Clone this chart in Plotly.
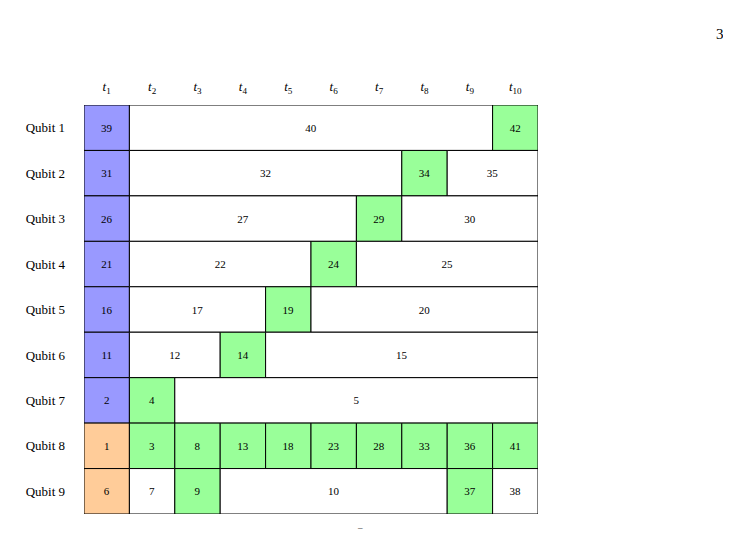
import plotly.graph_objects as go

qubits = ["Qubit 1", "Qubit 2", "Qubit 3", "Qubit 4", "Qubit 5",
          "Qubit 6", "Qubit 7", "Qubit 8", "Qubit 9"]
time_labels = ["<i>t</i><sub>%d</sub>" % i for i in range(1, 11)]

# per qubit: (start column, span, label, kind)
q1 = [(0, 1, "39", "b"), (1, 8, "40", "w"), (9, 1, "42", "g")]
q2 = [(0, 1, "31", "b"), (1, 6, "32", "w"), (7, 1, "34", "g"), (8, 2, "35", "w")]
q3 = [(0, 1, "26", "b"), (1, 5, "27", "w"), (6, 1, "29", "g"), (7, 3, "30", "w")]
q4 = [(0, 1, "21", "b"), (1, 4, "22", "w"), (5, 1, "24", "g"), (6, 4, "25", "w")]
q5 = [(0, 1, "16", "b"), (1, 3, "17", "w"), (4, 1, "19", "g"), (5, 5, "20", "w")]
q6 = [(0, 1, "11", "b"), (1, 2, "12", "w"), (3, 1, "14", "g"), (4, 6, "15", "w")]
q7 = [(0, 1, "2", "b"), (1, 1, "4", "g"), (2, 8, "5", "w")]
q8 = [(0, 1, "1", "o")] + [(i + 1, 1, s, "g") for i, s in
                           enumerate(["3", "8", "13", "18", "23", "28", "33", "36", "41"])]
q9 = [(0, 1, "6", "o"), (1, 1, "7", "w"), (2, 1, "9", "g"), (3, 5, "10", "w"),
      (8, 1, "37", "g"), (9, 1, "38", "w")]
rows = [q1, q2, q3, q4, q5, q6, q7, q8, q9]

colors = {"b": "#9999ff", "g": "#99ff99", "o": "#ffcc99", "w": "#ffffff"}

fig = go.Figure()
for q, segs in zip(qubits, rows):
    fig.add_trace(go.Bar(
        y=[q] * len(segs), x=[s[1] for s in segs], base=[s[0] for s in segs],
        orientation="h", width=1, text=[s[2] for s in segs],
        textposition="inside", insidetextanchor="middle",
        textfont=dict(size=11, color="black", family="Liberation Serif"),
        marker=dict(color=[colors[s[3]] for s in segs],
                    line=dict(color="black", width=1)),
        showlegend=False, hoverinfo="skip"))

fig.update_layout(
    width=731, height=534, barmode="overlay",
    margin=dict(l=76, r=201, t=97, b=28, autoexpand=False),
    plot_bgcolor="white", paper_bgcolor="white",
    font=dict(family="Liberation Serif", size=13, color="black"),
    uniformtext=dict(minsize=11, mode="show"),
)
fig.update_xaxes(range=[0, 10], side="top", showgrid=False, zeroline=False,
                 tickvals=[i + 0.5 for i in range(10)], ticktext=time_labels,
                 ticks="", ticklabelstandoff=10, automargin=False)
fig.update_yaxes(autorange="reversed", showgrid=False, zeroline=False,
                 ticks="", ticklabelstandoff=18, automargin=False)
fig.add_annotation(text="31", xref="paper", yref="paper", x=(725 - 76) / 454,
                   y=1 + (97 - 16) / 409, showarrow=False, xanchor="right",
                   font=dict(size=15))
fig.add_annotation(text="–", xref="paper", yref="paper", x=(352 - 76) / 454,
                   y=-(526 - 506) / 409, showarrow=False, font=dict(size=9))
fig.write_html("out.html")
